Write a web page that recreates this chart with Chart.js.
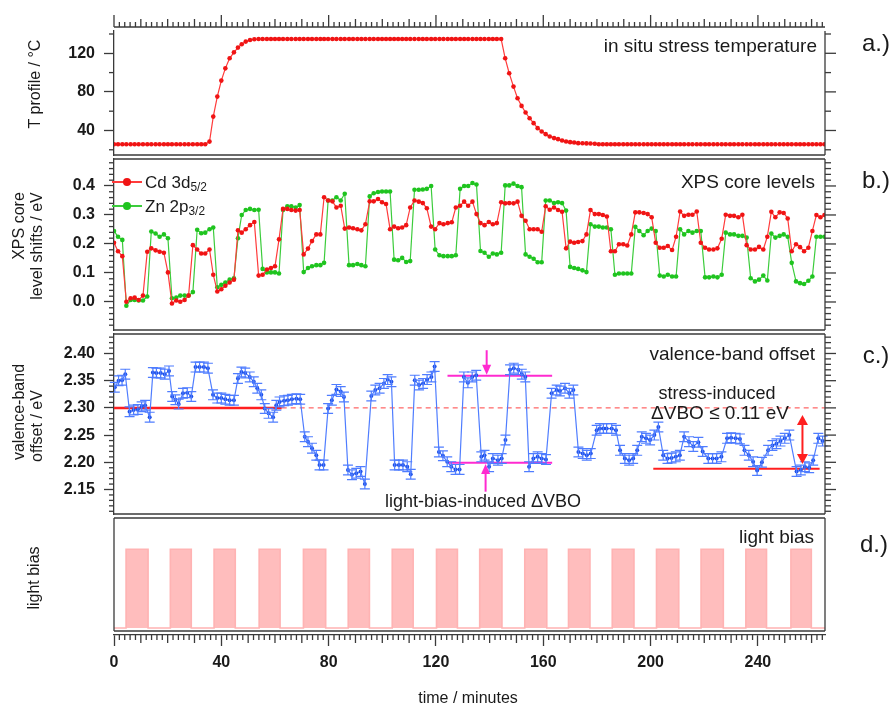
<!DOCTYPE html>
<html>
<head>
<meta charset="utf-8">
<title>in situ stress + light bias</title>
<script src="https://cdn.jsdelivr.net/npm/chart.js@4.4.1/dist/chart.umd.min.js"></script>
<style>
  body { margin: 0; background: #fff; }
  #page { position: relative; width: 894px; height: 708px; overflow: hidden; font-family: "Liberation Sans", Arial, sans-serif; color: #1a1a1a; }
  #page canvas { position: absolute; left: 0; top: 0; }
  .t { position: absolute; white-space: nowrap; line-height: 1; }
  .c { transform: translate(-50%, -50%); }
  .r { transform: translate(-100%, -50%); }
  .l { transform: translate(0, -50%); }
  .v { transform: translate(-50%, -50%) rotate(-90deg); }
  sub { font-size: 0.7em; vertical-align: -0.32em; line-height: 0; }
  .key { position: absolute; width: 30px; height: 8px; }
  .key b { position: absolute; left: 0; right: 0; top: 3px; height: 1.6px; }
  .key i { position: absolute; left: 11px; top: 0; width: 8px; height: 8px; border-radius: 50%; }
</style>
</head>
<body>
<div id="page">
  <canvas id="pa" width="894" height="708"></canvas>
  <canvas id="pb" width="894" height="708"></canvas>
  <canvas id="pc" width="894" height="708"></canvas>
  <canvas id="pd" width="894" height="708"></canvas>

  <div class="t v" style="left:35px;top:84px;font-size:16px;">T profile / °C</div>
  <div class="t v" style="left:19px;top:226px;font-size:16px;">XPS core</div>
  <div class="t v" style="left:37px;top:246px;font-size:16px;">level shifts / eV</div>
  <div class="t v" style="left:19px;top:412px;font-size:16px;">valence-band</div>
  <div class="t v" style="left:37px;top:426px;font-size:16px;">offset / eV</div>
  <div class="t v" style="left:34px;top:578px;font-size:16px;">light bias</div>
  <div class="t c" style="left:468px;top:698px;font-size:16px;">time / minutes</div>

  <div class="t c" style="left:876px;top:43px;font-size:24px;">a.)</div>
  <div class="t c" style="left:876px;top:180px;font-size:24px;">b.)</div>
  <div class="t c" style="left:876px;top:355px;font-size:24px;">c.)</div>
  <div class="t c" style="left:874px;top:544px;font-size:24px;">d.)</div>

  <div class="t r" style="left:817px;top:45px;font-size:19px;">in situ stress temperature</div>
  <div class="t r" style="left:815px;top:181px;font-size:19px;">XPS core levels</div>
  <div class="t r" style="left:815px;top:353px;font-size:19px;">valence-band offset</div>
  <div class="t r" style="left:814px;top:536px;font-size:19px;">light bias</div>
  <div class="t c" style="left:717px;top:393px;font-size:18px;">stress-induced</div>
  <div class="t c" style="left:720px;top:412px;font-size:19px;">ΔVBO ≤ 0.11 eV</div>
  <div class="t c" style="left:483px;top:501px;font-size:18px;">light-bias-induced ΔVBO</div>

  <div class="key" style="left:112px;top:178px;"><b style="background:#ff3b3b"></b><i style="background:#f01414"></i></div>
  <div class="t l" style="left:145px;top:182px;font-size:17px;">Cd 3d<sub>5/2</sub></div>
  <div class="key" style="left:112px;top:202px;"><b style="background:#3ccc3c"></b><i style="background:#1fc41f"></i></div>
  <div class="t l" style="left:145px;top:206px;font-size:17px;">Zn 2p<sub>3/2</sub></div>
</div>

<script>
// time stamps of the XPS / temperature samples (minutes)
const timeMin = [
  0.0, 1.5, 3.1, 4.6, 6.2, 7.7, 9.2, 10.8, 12.4, 13.9,
  15.5, 17.0, 18.6, 20.1, 21.6, 23.2, 24.7, 26.3, 27.8, 29.4,
  31.0, 32.5, 34.0, 35.6, 37.0, 38.5, 40.0, 41.5, 43.1, 44.7,
  46.2, 47.6, 49.1, 50.7, 52.3, 53.9, 55.4, 57.0, 58.5, 60.0,
  61.5, 63.0, 64.6, 66.1, 67.7, 69.2, 70.7, 72.3, 73.8, 75.4,
  76.9, 78.3, 79.8, 81.4, 82.9, 84.5, 86.0, 87.6, 89.1, 90.7,
  92.2, 93.7, 95.3, 96.8, 98.4, 99.9, 101.4, 102.9, 104.4, 105.9,
  107.4, 108.9, 110.4, 112.0, 113.6, 115.1, 116.6, 118.2, 119.7, 121.3,
  122.8, 124.4, 125.9, 127.4, 129.0, 130.5, 132.0, 133.6, 135.1, 136.6,
  138.1, 139.7, 141.2, 142.7, 144.3, 145.8, 147.3, 148.9, 150.4, 151.9,
  153.4, 154.9, 156.4, 157.9, 159.4, 160.9, 162.4, 164.0, 165.5, 167.0,
  168.5, 170.0, 171.5, 173.0, 174.6, 176.1, 177.6, 179.2, 180.7, 182.2,
  183.7, 185.2, 186.7, 188.2, 189.8, 191.3, 192.8, 194.3, 195.8, 197.4,
  198.9, 200.4, 201.9, 203.4, 204.9, 206.4, 208.0, 209.5, 211.0, 212.5,
  214.1, 215.6, 217.2, 218.7, 220.3, 221.8, 223.4, 224.9, 226.5, 228.0,
  229.6, 231.1, 232.7, 234.2, 235.8, 237.3, 238.9, 240.4, 242.0, 243.5,
  245.0, 246.5, 248.1, 249.6, 251.1, 252.6, 254.2, 255.7, 257.2, 258.8,
  260.3, 261.8, 263.3, 264.8
];

// a.) stress temperature (°C)
const tempC = [
  25.7, 25.7, 25.7, 25.7, 25.7, 25.7, 25.7, 25.7, 25.7, 25.7,
  25.7, 25.7, 25.7, 25.7, 25.7, 25.7, 25.7, 25.7, 25.7, 25.7,
  25.7, 25.7, 25.7, 28.5, 54.4, 75.1, 91.7, 104.4, 114.8, 121.0,
  125.9, 129.3, 132.1, 133.8, 134.5, 134.8, 134.8, 134.8, 134.8, 134.8,
  134.8, 134.8, 134.8, 134.8, 134.8, 134.8, 134.8, 134.8, 134.8, 134.8,
  134.8, 134.8, 134.8, 134.8, 134.8, 134.8, 134.8, 134.8, 134.8, 134.8,
  134.8, 134.8, 134.8, 134.8, 134.8, 134.8, 134.8, 134.8, 134.8, 134.8,
  134.8, 134.8, 134.8, 134.8, 134.8, 134.8, 134.8, 134.8, 134.8, 134.8,
  134.8, 134.8, 134.8, 134.8, 134.8, 134.8, 134.8, 134.8, 134.8, 134.8,
  134.8, 134.8, 134.8, 134.8, 134.8, 114.8, 99.3, 85.5, 73.4, 65.5,
  58.6, 52.7, 47.6, 42.4, 38.9, 36.2, 33.8, 32.1, 31.0, 29.6,
  28.6, 27.9, 27.6, 26.9, 26.8, 26.6, 26.5, 26.3, 25.7, 25.7,
  25.7, 25.7, 25.7, 25.7, 25.7, 25.7, 25.7, 25.7, 25.7, 25.7,
  25.7, 25.7, 25.7, 25.7, 25.7, 25.7, 25.7, 25.7, 25.7, 25.7,
  25.7, 25.7, 25.7, 25.7, 25.7, 25.7, 25.7, 25.7, 25.7, 25.7,
  25.7, 25.7, 25.7, 25.7, 25.7, 25.7, 25.7, 25.7, 25.7, 25.7,
  25.7, 25.7, 25.7, 25.7, 25.7, 25.7, 25.7, 25.7, 25.7, 25.7,
  25.7, 25.7, 25.7, 25.7
];

// b.) core level shifts (eV)
const cdShift = [
  0.204, 0.175, 0.158, 0.001, 0.013, 0.015, 0.007, 0.022, 0.173, 0.185,
  0.178, 0.173, 0.170, 0.102, -0.005, 0.005, 0.001, 0.007, 0.022, 0.196,
  0.181, 0.167, 0.167, 0.181, 0.094, 0.036, 0.044, 0.056, 0.067, 0.077,
  0.247, 0.239, 0.251, 0.265, 0.276, 0.091, 0.094, 0.112, 0.117, 0.123,
  0.216, 0.321, 0.321, 0.317, 0.315, 0.317, 0.164, 0.184, 0.210, 0.233,
  0.233, 0.361, 0.350, 0.347, 0.326, 0.332, 0.253, 0.257, 0.254, 0.251,
  0.247, 0.268, 0.347, 0.347, 0.355, 0.344, 0.338, 0.251, 0.260, 0.254,
  0.257, 0.265, 0.326, 0.350, 0.346, 0.341, 0.323, 0.260, 0.251, 0.272,
  0.268, 0.272, 0.275, 0.326, 0.332, 0.346, 0.332, 0.346, 0.303, 0.272,
  0.265, 0.276, 0.268, 0.272, 0.344, 0.340, 0.341, 0.340, 0.346, 0.297,
  0.280, 0.251, 0.251, 0.251, 0.242, 0.330, 0.318, 0.326, 0.317, 0.311,
  0.185, 0.208, 0.204, 0.207, 0.210, 0.233, 0.317, 0.303, 0.303, 0.300,
  0.295, 0.175, 0.175, 0.199, 0.199, 0.195, 0.233, 0.309, 0.309, 0.307,
  0.303, 0.292, 0.204, 0.187, 0.187, 0.193, 0.179, 0.225, 0.312, 0.297,
  0.301, 0.301, 0.312, 0.204, 0.187, 0.181, 0.181, 0.185, 0.218, 0.301,
  0.297, 0.297, 0.292, 0.301, 0.196, 0.181, 0.181, 0.190, 0.181, 0.225,
  0.311, 0.292, 0.309, 0.307, 0.288, 0.175, 0.199, 0.189, 0.175, 0.187,
  0.245, 0.300, 0.292, 0.300
];
const znShift = [
  0.245, 0.225, 0.214, -0.013, 0.007, 0.007, 0.005, 0.005, 0.019, 0.243,
  0.236, 0.225, 0.233, 0.220, 0.013, 0.015, 0.022, 0.022, 0.022, 0.034,
  0.249, 0.237, 0.239, 0.251, 0.257, 0.051, 0.059, 0.067, 0.077, 0.082,
  0.220, 0.300, 0.317, 0.321, 0.317, 0.318, 0.114, 0.102, 0.102, 0.102,
  0.098, 0.317, 0.330, 0.330, 0.326, 0.334, 0.103, 0.117, 0.123, 0.127,
  0.127, 0.135, 0.350, 0.350, 0.361, 0.350, 0.373, 0.127, 0.127, 0.131,
  0.127, 0.123, 0.364, 0.375, 0.379, 0.381, 0.381, 0.381, 0.146, 0.144,
  0.152, 0.138, 0.141, 0.387, 0.387, 0.388, 0.390, 0.400, 0.181, 0.161,
  0.158, 0.158, 0.158, 0.161, 0.390, 0.400, 0.400, 0.410, 0.405, 0.176,
  0.170, 0.156, 0.167, 0.164, 0.170, 0.402, 0.402, 0.408, 0.400, 0.396,
  0.164, 0.156, 0.149, 0.137, 0.137, 0.350, 0.350, 0.341, 0.344, 0.341,
  0.315, 0.121, 0.117, 0.114, 0.109, 0.103, 0.268, 0.260, 0.260, 0.257,
  0.257, 0.251, 0.094, 0.098, 0.098, 0.098, 0.098, 0.259, 0.245, 0.230,
  0.245, 0.253, 0.245, 0.091, 0.088, 0.094, 0.088, 0.088, 0.251, 0.233,
  0.245, 0.239, 0.245, 0.245, 0.085, 0.085, 0.088, 0.085, 0.094, 0.239,
  0.233, 0.233, 0.228, 0.228, 0.222, 0.082, 0.071, 0.077, 0.091, 0.074,
  0.236, 0.222, 0.228, 0.233, 0.225, 0.135, 0.071, 0.065, 0.062, 0.073,
  0.088, 0.225, 0.225, 0.225
];

// c.) valence-band offset (eV), sampled slightly after the core levels
const vboTime = [
  0.3, 1.7, 3.0, 4.2, 5.8, 7.3, 8.9, 10.3, 11.6, 13.3,
  14.5, 15.8, 17.4, 18.9, 20.5, 21.7, 22.9, 24.1, 25.7, 27.3,
  28.8, 30.4, 31.9, 33.5, 35.0, 36.9, 38.5, 40.0, 41.5, 43.1,
  44.7, 46.2, 47.5, 48.9, 50.6, 52.1, 53.4, 54.9, 56.2, 57.6,
  59.3, 60.5, 61.7, 63.4, 64.8, 66.3, 68.0, 69.4, 71.1, 72.3,
  73.8, 75.4, 76.6, 78.1, 79.8, 81.2, 82.9, 84.5, 85.7, 87.2,
  88.7, 90.3, 91.9, 93.5, 95.9, 97.4, 99.0, 100.6, 102.0, 103.4,
  104.6, 106.2, 107.7, 109.3, 110.6, 112.1, 113.7, 115.2, 116.7, 118.3,
  119.5, 121.1, 122.6, 124.2, 125.7, 127.3, 128.8, 130.4, 131.9, 133.5,
  135.0, 136.9, 138.1, 139.8, 141.2, 143.1, 144.5, 145.9, 147.6, 149.0,
  150.7, 152.0, 153.3, 154.7, 156.3, 157.9, 159.4, 161.0, 163.1, 165.0,
  166.2, 168.1, 169.7, 171.2, 173.1, 174.7, 176.2, 177.7, 179.9, 181.1,
  182.4, 183.6, 185.5, 187.1, 188.6, 190.4, 192.0, 193.5, 195.0, 196.7,
  198.3, 199.8, 201.4, 202.9, 204.7, 206.3, 207.8, 209.4, 210.9, 212.5,
  214.3, 215.9, 217.8, 219.4, 221.5, 223.1, 224.6, 226.4, 228.5, 230.0,
  231.7, 233.3, 235.0, 236.6, 238.2, 239.7, 241.5, 243.8, 245.4, 246.9,
  248.4, 250.0, 251.7, 254.4, 256.0, 257.5, 259.1, 260.6, 262.5, 264.1
];
const vboEV = [
  2.338, 2.350, 2.351, 2.362, 2.293, 2.296, 2.297, 2.302, 2.305, 2.283,
  2.365, 2.364, 2.364, 2.362, 2.368, 2.321, 2.315, 2.307, 2.327, 2.328,
  2.321, 2.375, 2.375, 2.375, 2.373, 2.324, 2.318, 2.318, 2.316, 2.314,
  2.314, 2.354, 2.366, 2.364, 2.357, 2.348, 2.336, 2.324, 2.299, 2.290,
  2.283, 2.305, 2.311, 2.313, 2.314, 2.316, 2.317, 2.316, 2.247, 2.238,
  2.226, 2.213, 2.195, 2.195, 2.299, 2.314, 2.334, 2.330, 2.320, 2.186,
  2.177, 2.180, 2.183, 2.160, 2.322, 2.333, 2.336, 2.345, 2.352, 2.348,
  2.195, 2.195, 2.195, 2.192, 2.178, 2.351, 2.342, 2.345, 2.352, 2.357,
  2.376, 2.219, 2.212, 2.201, 2.192, 2.187, 2.187, 2.357, 2.346, 2.357,
  2.360, 2.210, 2.213, 2.192, 2.207, 2.204, 2.207, 2.241, 2.370, 2.373,
  2.370, 2.362, 2.357, 2.192, 2.207, 2.210, 2.207, 2.205, 2.327, 2.333,
  2.331, 2.336, 2.327, 2.333, 2.219, 2.216, 2.213, 2.216, 2.259, 2.262,
  2.262, 2.262, 2.262, 2.259, 2.222, 2.207, 2.204, 2.207, 2.222, 2.247,
  2.244, 2.241, 2.250, 2.265, 2.213, 2.207, 2.208, 2.210, 2.213, 2.247,
  2.238, 2.229, 2.237, 2.220, 2.207, 2.207, 2.207, 2.210, 2.244, 2.245,
  2.244, 2.243, 2.222, 2.213, 2.201, 2.185, 2.200, 2.222, 2.231, 2.234,
  2.239, 2.244, 2.250, 2.183, 2.186, 2.192, 2.190, 2.204, 2.244, 2.239
];
const vboErr = 0.009;

// d.) light bias on / off times (minutes)
const lightOn = [4.5, 21.0, 37.3, 54.1, 70.6, 87.3, 103.7, 120.2, 136.3, 153.1, 169.4, 185.7, 202.2, 218.8, 235.5, 252.3];
const lightOff = [12.7, 28.8, 45.2, 61.9, 78.9, 95.2, 111.5, 128.0, 144.6, 161.3, 177.4, 193.8, 210.5, 227.1, 243.2, 259.9];

// tick labels
const tempTicks = [40, 80, 120];
const shiftTicks = [0.0, 0.1, 0.2, 0.3, 0.4];
const vboTicks = [2.15, 2.20, 2.25, 2.30, 2.35, 2.40];
const timeTicks = [0, 40, 80, 120, 160, 200, 240];

// guide marks in panel c
const vboStart = 2.30, vboStartEnd = 62.5;
const lbTop = 2.359, lbBottom = 2.199, lbFrom = 124.3, lbTo = 163.3;
const vboFinal = 2.188, finalFrom = 201, finalTo = 263;
const lbArrowDown = { t: 138.9, from: 2.406, to: 2.361 };
const lbArrowUp = { t: 138.5, from: 2.146, to: 2.197 };
const stressArrow = { t: 256.6, top: 2.287, bottom: 2.197 };

const X_MAX = 265;
const PLOT_LEFT = 114, PLOT_RIGHT = 825;
const AXIS = '#3a3a3a';
const tickFont = { size: 16, weight: 'bold' };
Chart.defaults.font.family = '"Liberation Sans", Arial, sans-serif';

// frame lines, mirror ticks, minor ticks and the time tick rows
const framePlugin = {
  id: 'frame',
  afterDraw(chart, args, o) {
    const { ctx, chartArea: a, scales } = chart;
    const x = scales.x, y = scales.y;
    const bottom = o.bottomAxis ? a.bottom - 4 : a.bottom;
    const seg = (x1, y1, x2, y2) => { ctx.beginPath(); ctx.moveTo(x1, y1); ctx.lineTo(x2, y2); ctx.stroke(); };
    ctx.save();
    ctx.strokeStyle = AXIS;
    ctx.lineWidth = 1.3;
    seg(a.right, a.top, a.right, bottom);
    if (o.bottomAxis) seg(a.left, a.top, a.left, bottom);
    if (!o.topAxis) seg(a.left, a.top, a.right, a.top);
    seg(a.left, bottom, a.right, bottom);

    if (o.major) {
      o.major.forEach(v => {
        const py = y.getPixelForValue(v);
        seg(a.right, py, a.right + 11, py);
      });
      const n0 = Math.ceil(y.min / o.minor - 1e-6), n1 = Math.floor(y.max / o.minor + 1e-6);
      for (let n = n0; n <= n1; n++) {
        const v = n * o.minor;
        if (o.major.some(m => Math.abs(m - v) < o.minor / 10)) continue;
        const py = y.getPixelForValue(v);
        seg(a.left - 5, py, a.left, py);
        seg(a.right, py, a.right + 6, py);
      }
    }

    if (o.topAxis || o.bottomAxis) {
      const ay = o.topAxis ? a.top - 4 : a.bottom;
      const dir = o.topAxis ? -1 : 1;
      if (o.topAxis) seg(a.left, ay, a.right, ay);
      for (let k = 0; k * 2 <= X_MAX; k++) {
        const t = k * 2;
        let len = t % 10 === 0 ? 8 : 5;
        if (t % 40 === 0) {
          if (o.bottomAxis) continue;   // Chart.js draws the labelled ones
          len = 12;
        }
        const px = x.getPixelForValue(t);
        seg(px, ay, px, ay + dir * len);
      }
    }
    ctx.restore();
  }
};
Chart.register(framePlugin);

function leftAxis(min, max, values, digits) {
  return {
    type: 'linear', min, max, position: 'left',
    afterFit: s => { s.width = PLOT_LEFT; },
    afterBuildTicks: s => { s.ticks = values.map(v => ({ value: v })); },
    border: { display: true, color: AXIS, width: 1.3 },
    grid: { drawOnChartArea: false, drawTicks: true, tickLength: 10, tickColor: AXIS, tickWidth: 1.3 },
    ticks: { font: tickFont, color: '#1a1a1a', padding: 9, callback: v => v.toFixed(digits) }
  };
}

function panelOptions(top, bottom, yAxis, frame) {
  return {
    responsive: false, animation: false, events: [],
    layout: { padding: { top, bottom: 708 - bottom, left: 0, right: 894 - PLOT_RIGHT } },
    scales: { x: { type: 'linear', min: 0, max: X_MAX, display: false }, y: yAxis },
    plugins: { legend: { display: false }, tooltip: { enabled: false }, frame }
  };
}

const pts = (xs, ys) => xs.map((t, i) => ({ x: t, y: ys[i] }));

// a.) temperature
new Chart(document.getElementById('pa'), {
  type: 'line',
  data: { datasets: [{
    data: pts(timeMin, tempC),
    borderColor: '#ff3b3b', borderWidth: 1.2,
    pointRadius: 2.3, pointBackgroundColor: '#f01414', pointBorderWidth: 0
  }] },
  options: panelOptions(31, 155, leftAxis(14.6, 143.1, tempTicks, 0), { topAxis: true, major: tempTicks, minor: 20 })
});

// b.) core levels
new Chart(document.getElementById('pb'), {
  type: 'line',
  data: { datasets: [
    { label: 'Cd 3d5/2', data: pts(timeMin, cdShift), borderColor: '#ff3b3b', borderWidth: 1.2,
      pointRadius: 2.3, pointBackgroundColor: '#f01414', pointBorderWidth: 0 },
    { label: 'Zn 2p3/2', data: pts(timeMin, znShift), borderColor: '#3ccc3c', borderWidth: 1.2,
      pointRadius: 2.3, pointBackgroundColor: '#1fc41f', pointBorderWidth: 0 }
  ] },
  options: panelOptions(159, 330, leftAxis(-0.0966, 0.493, shiftTicks, 1), { major: shiftTicks, minor: 0.02 })
});

// c.) valence-band offset
const VBO_BLUE = '#4f7dff';
const errorBars = {
  id: 'errorBars',
  afterDatasetsDraw(chart) {
    const { ctx, scales: { x, y } } = chart;
    ctx.save();
    ctx.strokeStyle = VBO_BLUE;
    ctx.lineWidth = 1.2;
    vboTime.forEach((t, i) => {
      const px = x.getPixelForValue(t);
      const hi = y.getPixelForValue(vboEV[i] + vboErr);
      const lo = y.getPixelForValue(vboEV[i] - vboErr);
      ctx.beginPath();
      ctx.moveTo(px, hi); ctx.lineTo(px, lo);
      ctx.moveTo(px - 5, hi); ctx.lineTo(px + 5, hi);
      ctx.moveTo(px - 5, lo); ctx.lineTo(px + 5, lo);
      ctx.stroke();
    });
    ctx.restore();
  }
};

const arrowMarks = {
  id: 'arrowMarks',
  afterDatasetsDraw(chart) {
    const { ctx, scales: { x, y } } = chart;
    const head = (px, tipY, dir, w, h) => {   // dir 1: points down, -1: points up
      ctx.beginPath();
      ctx.moveTo(px, tipY);
      ctx.lineTo(px - w / 2, tipY - dir * h);
      ctx.lineTo(px + w / 2, tipY - dir * h);
      ctx.closePath();
      ctx.fill();
    };
    ctx.save();
    ctx.lineWidth = 2;

    ctx.strokeStyle = ctx.fillStyle = '#ff2ad0';
    [lbArrowDown, lbArrowUp].forEach(a => {
      const px = x.getPixelForValue(a.t);
      const y0 = y.getPixelForValue(a.from), y1 = y.getPixelForValue(a.to);
      const dir = y1 > y0 ? 1 : -1;
      ctx.beginPath(); ctx.moveTo(px, y0); ctx.lineTo(px, y1 - dir * 7); ctx.stroke();
      head(px, y1, dir, 9, 10);
    });

    ctx.strokeStyle = ctx.fillStyle = '#ff1f1f';
    const sx = x.getPixelForValue(stressArrow.t);
    const sTop = y.getPixelForValue(stressArrow.top), sBot = y.getPixelForValue(stressArrow.bottom);
    ctx.beginPath(); ctx.moveTo(sx, sTop + 8); ctx.lineTo(sx, sBot - 8); ctx.stroke();
    head(sx, sTop, -1, 11, 10);
    head(sx, sBot, 1, 11, 10);
    ctx.restore();
  }
};

const flat = (y0, x0, x1) => [{ x: x0, y: y0 }, { x: x1, y: y0 }];
new Chart(document.getElementById('pc'), {
  type: 'line',
  data: { datasets: [
    { data: pts(vboTime, vboEV), borderColor: VBO_BLUE, borderWidth: 1.2,
      pointRadius: 2, pointBackgroundColor: '#1d4fe6', pointBorderWidth: 0 },
    { data: flat(vboStart, 0, vboStartEnd), borderColor: '#ff1f1f', borderWidth: 2.5, pointRadius: 0 },
    { data: flat(vboStart, vboStartEnd, X_MAX), borderColor: '#ff4040', borderWidth: 1, borderDash: [5, 4], pointRadius: 0 },
    { data: flat(lbTop, lbFrom, lbTo), borderColor: '#ff2ad0', borderWidth: 2, pointRadius: 0 },
    { data: flat(lbBottom, lbFrom, lbTo), borderColor: '#ff2ad0', borderWidth: 2, pointRadius: 0 },
    { data: flat(vboFinal, finalFrom, finalTo), borderColor: '#ff1f1f', borderWidth: 2, pointRadius: 0 }
  ] },
  options: panelOptions(334, 514, leftAxis(2.105, 2.4358, vboTicks, 2), { major: vboTicks, minor: 0.01 }),
  plugins: [errorBars, arrowMarks]
});

// d.) light bias as a stepped, filled trace
const lightTrace = [{ x: 0, y: 0 }];
lightOn.forEach((on, i) => { lightTrace.push({ x: on, y: 1 }, { x: lightOff[i], y: 0 }); });
lightTrace.push({ x: X_MAX, y: 0 });

new Chart(document.getElementById('pd'), {
  type: 'line',
  data: { datasets: [{
    data: lightTrace, stepped: 'before', fill: 'origin',
    backgroundColor: '#ffbdbd', borderColor: '#ffb3b3', borderWidth: 1.6, pointRadius: 0
  }] },
  options: {
    responsive: false, animation: false, events: [],
    layout: { padding: { top: 518, bottom: 0, left: PLOT_LEFT, right: 894 - PLOT_RIGHT } },
    scales: {
      x: {
        type: 'linear', min: 0, max: X_MAX, position: 'bottom',
        afterFit: s => { s.height = 708 - 635; },
        afterBuildTicks: s => { s.ticks = timeTicks.map(v => ({ value: v })); },
        border: { display: true, color: AXIS, width: 1.3 },
        grid: { drawOnChartArea: false, drawTicks: true, tickLength: 11, tickColor: AXIS, tickWidth: 1.3 },
        ticks: { font: tickFont, color: '#1a1a1a', padding: 7, maxRotation: 0, autoSkip: false }
      },
      y: { type: 'linear', min: -0.089, max: 1.398, display: false }
    },
    plugins: { legend: { display: false }, tooltip: { enabled: false }, frame: { bottomAxis: true } }
  }
});
</script>
</body>
</html>
